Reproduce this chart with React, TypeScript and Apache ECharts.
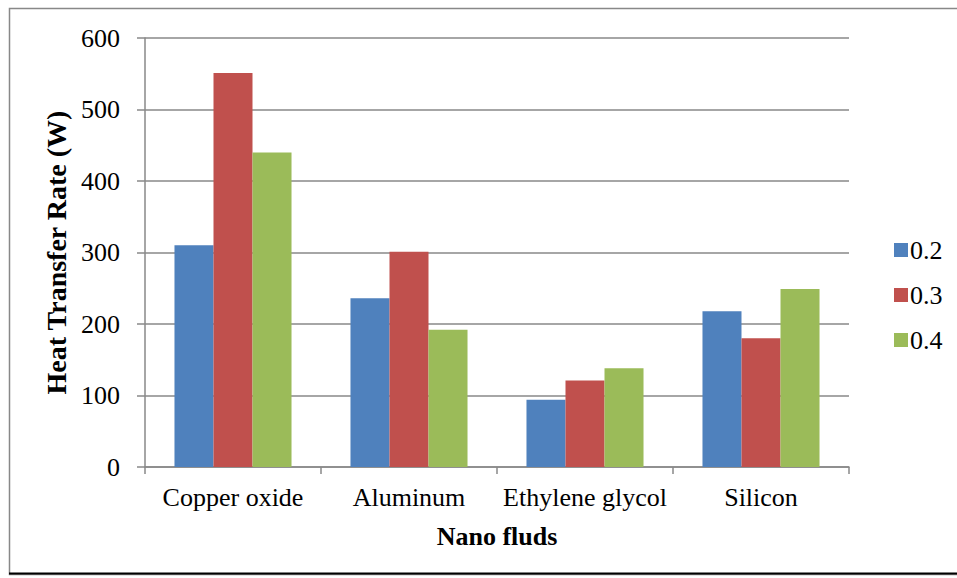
import React, { useEffect, useRef } from "react";
import * as echarts from "echarts";

const categories = ["Copper oxide", "Aluminum", "Ethylene glycol", "Silicon"];
const seriesNames = ["0.2", "0.3", "0.4"];
const values02 = [310, 236, 94, 218];
const values03 = [551, 301, 121, 180];
const values04 = [440, 192, 138, 249];
const colors = ["#4F81BD", "#C0504D", "#9BBB59"];

const FONT = "Liberation Serif";

export default function App() {
  const ref = useRef<HTMLDivElement>(null);
  useEffect(() => {
    if (!ref.current) return;
    const chart = echarts.init(ref.current, undefined, { renderer: "svg" });
    const data = [values02, values03, values04];
    chart.setOption({
      animation: false,
      backgroundColor: "#ffffff",
      textStyle: { fontFamily: FONT },
      grid: { left: 145, right: 108, top: 38, bottom: 111, containLabel: false },
      legend: {
        orient: "vertical",
        left: 889,
        top: 232,
        itemWidth: 14,
        itemHeight: 14,
        itemGap: 19,
        icon: "rect",
        data: seriesNames,
        textStyle: { fontFamily: FONT, fontSize: 26, fontWeight: "normal", color: "#000", padding: [0, 0, 0, -3] },
      },
      xAxis: {
        type: "category",
        data: categories,
        name: "Nano fluds",
        nameLocation: "middle",
        nameGap: 56,
        nameTextStyle: { fontFamily: FONT, fontSize: 26, fontWeight: "bold", color: "#000" },
        axisLine: { lineStyle: { color: "#888", width: 1.5 } },
        axisTick: { show: true, length: 7, lineStyle: { color: "#888", width: 1.5 } },
        axisLabel: { interval: 0, fontFamily: FONT, fontSize: 26, fontWeight: "normal", color: "#000", margin: 17 },
      },
      yAxis: {
        type: "value",
        min: 0,
        max: 600,
        interval: 100,
        name: "Heat Transfer Rate (W)",
        nameLocation: "middle",
        nameGap: 72,
        nameTextStyle: { fontFamily: FONT, fontSize: 28, fontWeight: "bold", color: "#000" },
        axisLine: { show: true, lineStyle: { color: "#888", width: 1.5 } },
        axisTick: { show: true, length: 8, lineStyle: { color: "#888", width: 1.5 } },
        axisLabel: { fontFamily: FONT, fontSize: 26, fontWeight: "normal", color: "#000", margin: 25 },
        splitLine: { show: true, lineStyle: { color: "#888", width: 1.5 } },
      },
      series: seriesNames.map((n, i) => ({
        name: n,
        type: "bar",
        data: data[i],
        barGap: "0%",
        barCategoryGap: "33.5%",
        itemStyle: { color: colors[i] },
      })),
      graphic: [
        {
          type: "rect",
          shape: { x: 9.5, y: 8.5, width: 960, height: 566 },
          style: { fill: "none", stroke: "#888", lineWidth: 1.5 },
          silent: true,
        },
        {
          type: "line",
          shape: { x1: 9, y1: 573.5, x2: 957, y2: 573.5 },
          style: { stroke: "#000", lineWidth: 2 },
          silent: true,
        },
      ],
    });
    return () => chart.dispose();
  }, []);
  return (
    <div
      ref={ref}
      style={{ position: "fixed", left: 0, top: 0, width: 957, height: 578 }}
    />
  );
}
